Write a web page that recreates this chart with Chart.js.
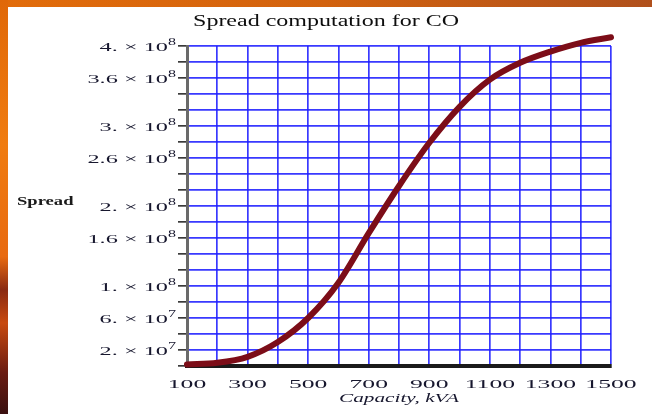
<!DOCTYPE html>
<html><head><meta charset="utf-8">
<script src="https://cdn.jsdelivr.net/npm/chart.js@4/dist/chart.umd.min.js"></script>
<style>html,body{margin:0;padding:0;width:652px;height:414px;overflow:hidden;background:#fff}canvas{display:block}</style>
</head><body>
<canvas id="c" width="652" height="414"></canvas>
<script>
// ---- data ----
const capacity = [100, 200, 300, 400, 500, 600, 700, 800, 900, 1000, 1100, 1200, 1300, 1400, 1500];
const spread = [2e6, 4e6, 1.15e7, 3.0e7, 6.0e7, 1.04e8, 1.66e8, 2.25e8, 2.79e8, 3.24e8, 3.58e8, 3.79e8, 3.93e8, 4.04e8, 4.11e8];
const xTickValues = [100, 300, 500, 700, 900, 1100, 1300, 1500];
const yTickValues = [4e8, 3.6e8, 3e8, 2.6e8, 2e8, 1.6e8, 1e8, 6e7, 2e7];
const yTickMantissa = ['4.', '3.6', '3.', '2.6', '2.', '1.6', '1.', '6.', '2.'];
const yTickExponent = ['8', '8', '8', '8', '8', '8', '8', '7', '7'];
const chartTitle = 'Spread computation for CO';
const xTitle = 'Capacity, kVA';
const yTitle = 'Spread';

const SERIF = '"Liberation Serif", "DejaVu Serif", serif';
const TXT = '#17172e';

function stretchText(ctx, text, x, y, align, font, sx, color) {
  ctx.save();
  ctx.font = font;
  ctx.fillStyle = color;
  ctx.textBaseline = 'alphabetic';
  ctx.textAlign = 'left';
  const w = ctx.measureText(text).width * sx;
  let left = x;
  if (align === 'center') left = x - w / 2;
  else if (align === 'right') left = x - w;
  ctx.translate(left, y);
  ctx.scale(sx, 1);
  ctx.fillText(text, 0, 0);
  ctx.restore();
  return w;
}

const backdrop = {
  id: 'backdrop',
  beforeDraw(chart) {
    const ctx = chart.ctx;
    ctx.save();
    ctx.fillStyle = '#ffffff';
    ctx.fillRect(0, 0, chart.width, chart.height);
    const gTop = ctx.createLinearGradient(0, 0, chart.width, 0);
    gTop.addColorStop(0, '#e26c0a');
    gTop.addColorStop(0.5, '#d2620e');
    gTop.addColorStop(1, '#b0501c');
    ctx.fillStyle = gTop;
    ctx.fillRect(0, 0, chart.width, 7);
    const gLeft = ctx.createLinearGradient(0, 0, 0, chart.height);
    gLeft.addColorStop(0, '#e06808');
    gLeft.addColorStop(0.35, '#f07c10');
    gLeft.addColorStop(0.62, '#e86a10');
    gLeft.addColorStop(0.7, '#8a2a12');
    gLeft.addColorStop(0.78, '#c84a10');
    gLeft.addColorStop(0.9, '#6a1c12');
    gLeft.addColorStop(1, '#3a1010');
    ctx.fillStyle = gLeft;
    ctx.fillRect(0, 0, 8, chart.height);
    ctx.restore();
  }
};

const labels = {
  id: 'labels',
  afterDraw(chart) {
    const ctx = chart.ctx;
    const xs = chart.scales.x, ys = chart.scales.y;
    // title
    stretchText(ctx, chartTitle, 326, 26, 'center', '16px ' + SERIF, 1.5, '#0e0e0e');
    // x tick labels
    xTickValues.forEach(v => {
      stretchText(ctx, String(v), xs.getPixelForValue(v), 388, 'center', '13.5px ' + SERIF, 1.9, TXT);
    });
    // x title
    stretchText(ctx, xTitle, (xs.left + xs.right) / 2, 402, 'center', 'italic 12.5px ' + SERIF, 1.7, TXT);
    // y tick labels
    yTickValues.forEach((v, i) => {
      const py = ys.getPixelForValue(v);
      const right = 176;
      const ew = stretchText(ctx, yTickExponent[i], right, py - 1, 'right', '10px ' + SERIF, 1.6, TXT);
      stretchText(ctx, yTickMantissa[i] + ' \u00d7 10', right - ew, py + 5, 'right', '13.5px ' + SERIF, 1.8, TXT);
    });
    // y title (horizontal)
    stretchText(ctx, yTitle, 17, 205, 'left', 'bold 12px ' + SERIF, 1.55, '#1a1a1a');
  }
};

const gridColor = 'rgba(30,30,255,0.88)';

new Chart(document.getElementById('c'), {
  type: 'line',
  data: {
    datasets: [{
      data: capacity.map((x, i) => ({ x: x, y: spread[i] })),
      borderColor: '#7c0d18',
      borderWidth: 6,
      pointRadius: 0,
      cubicInterpolationMode: 'monotone',
      borderCapStyle: 'round',
      clip: false
    }]
  },
  options: {
    responsive: false,
    animation: false,
    layout: { padding: { left: 0, right: 41, top: 46, bottom: 0 } },
    plugins: { legend: { display: false }, tooltip: { enabled: false }, title: { display: false } },
    scales: {
      x: {
        type: 'linear', min: 100, max: 1500,
        ticks: { stepSize: 100, display: false },
        grid: { color: gridColor, lineWidth: 1.7, drawTicks: false },
        border: { color: '#1a1a1a', width: 4 },
        afterFit: s => { s.height = 48; }
      },
      y: {
        min: 0, max: 4e8,
        ticks: { stepSize: 2e7, display: false },
        grid: { color: gridColor, lineWidth: 1.7, drawTicks: true, tickLength: 9, tickColor: '#3a3a3a' },
        border: { color: '#6a6a6a', width: 3 },
        afterFit: s => { s.width = 187; }
      }
    }
  },
  plugins: [backdrop, labels]
});
</script>
</body></html>
